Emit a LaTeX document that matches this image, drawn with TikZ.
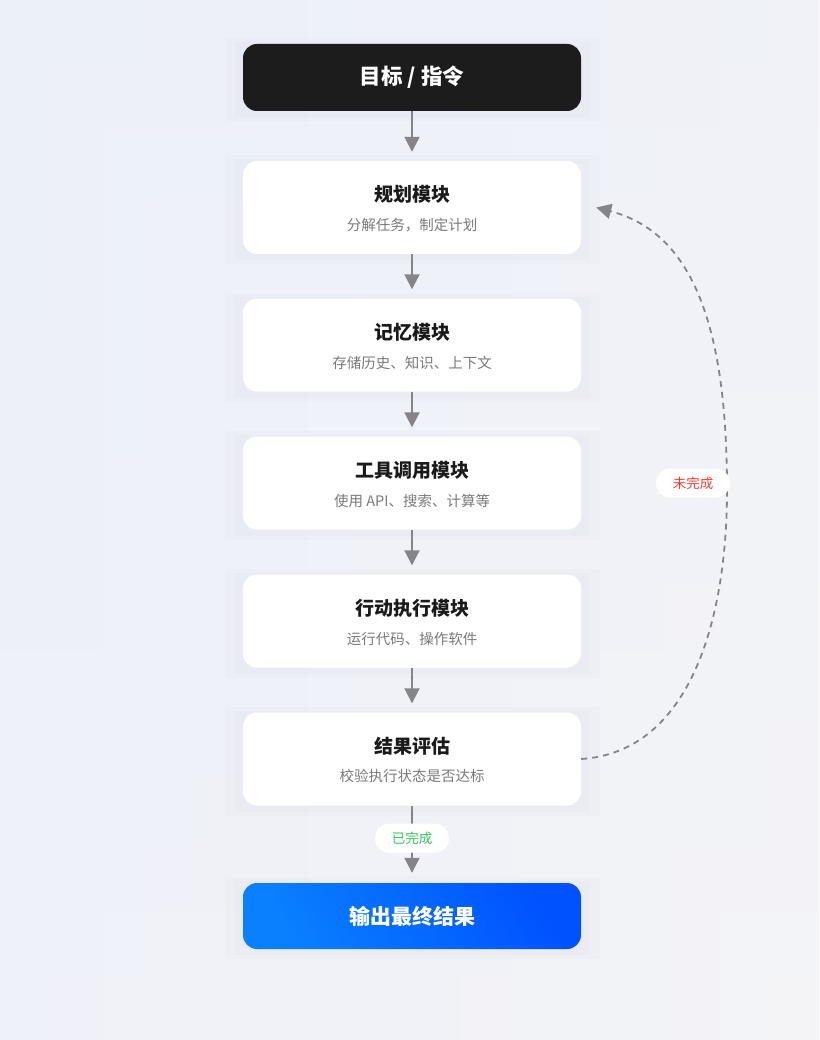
\documentclass[tikz,border=0pt]{standalone}
\usepackage{fontspec}
\setmainfont{Noto Sans CJK SC}
\usetikzlibrary{arrows.meta,shapes.misc,calc}
\definecolor{bgA}{HTML}{ECF0F9}
\definecolor{bgB}{HTML}{F4F4F7}
\definecolor{dark}{HTML}{1C1C1C}
\definecolor{conn}{HTML}{858589}
\definecolor{sub}{HTML}{7A7A7A}
\definecolor{titlec}{HTML}{1A1A1A}
\definecolor{blueA}{HTML}{0A80FF}
\definecolor{blueB}{HTML}{0052FF}
\definecolor{redc}{HTML}{FF3B30}
\definecolor{greenc}{HTML}{34C759}
\definecolor{shadowc}{HTML}{D8DAE6}
\tikzset{
  card/.style={rounded corners=14pt, minimum width=338pt, inner sep=0pt},
  whitecard/.style={card, fill=white, minimum height=93pt},
  cardshadow/.style={fill=shadowc, fill opacity=0.12, draw=none},
  ttl/.style={font=\bfseries\fontsize{19}{21}\selectfont, text=titlec},
  subt/.style={font=\fontsize{14.5}{16}\selectfont, text=sub},
  flow/.style={draw=conn, line width=2pt, -{Triangle[length=15pt,width=15pt]}},
  loopc/.style={draw=conn, line width=1.8pt, dash pattern=on 6pt off 5pt, -{Triangle[length=15pt,width=15pt]}},
  pill/.style={rounded rectangle, fill=white, minimum width=74pt, minimum height=29pt, inner sep=0pt, font=\fontsize{13.5}{15}\selectfont},
}
\begin{document}
\begin{tikzpicture}[x=1pt,y=-1pt]
\useasboundingbox (0,0) rectangle (819,1040);
\shade[top color=bgA, bottom color=bgB] (0,0) rectangle (819,1040);
\shade[left color=bgA, right color=bgB, opacity=0.5] (0,0) rectangle (819,1040);
% shadows
\foreach \yc/\h in {77.5/67, 207.5/93, 345/93, 483/93, 621/93, 759/93, 916/66}{
  \fill[cardshadow] (225,\yc-\h/2-6) rectangle (600,\yc+\h/2+10);
  \fill[cardshadow] (235,\yc-\h/2-2) rectangle (590,\yc+\h/2+6);
}
% nodes
\node[card, fill=dark, minimum height=67pt, text=white, font=\bfseries\fontsize{21.5}{24}\selectfont] (goal) at (412,77.5) {目标 / 指令};
\node[whitecard] (plan) at (412,207.5) {};
\node[ttl] (planT) at (412,194) {规划模块};
\node[subt] (planS) at (412,225) {分解任务，制定计划};
\node[whitecard] (mem) at (412,345) {};
\node[ttl] (memT) at (412,332) {记忆模块};
\node[subt] (memS) at (412,363) {存储历史、知识、上下文};
\node[whitecard] (tool) at (412,483) {};
\node[ttl] (toolT) at (412,470) {工具调用模块};
\node[subt] (toolS) at (412,501) {使用 API、搜索、计算等};
\node[whitecard] (act) at (412,621) {};
\node[ttl] (actT) at (412,608) {行动执行模块};
\node[subt] (actS) at (412,639) {运行代码、操作软件};
\node[whitecard] (eval) at (412,759) {};
\node[ttl] (evalT) at (412,746) {结果评估};
\node[subt] (evalS) at (412,776) {校验执行状态是否达标};
\node[card, minimum height=66pt, left color=blueA, right color=blueB, shading angle=120, text=white, font=\bfseries\fontsize{21}{23}\selectfont] (out) at (412,916) {输出最终结果};
% connectors
\draw[flow] (goal.south) -- ($(plan.north)+(0,-9)$);
\draw[flow] (plan.south) -- ($(mem.north)+(0,-9)$);
\draw[flow] (mem.south) -- ($(tool.north)+(0,-9)$);
\draw[flow] (tool.south) -- ($(act.north)+(0,-9)$);
\draw[flow] (act.south) -- ($(eval.north)+(0,-9)$);
\draw[flow] (eval.south) -- ($(out.north)+(0,-10)$);
\coordinate (loopmid) at (727,490);
\draw[loopc] (eval.east) .. controls (690,752) and (727,620) .. (loopmid) .. controls (727,320) and (690,232) .. ($(plan.east)+(15,0)$);
% labels
\node[pill, text=redc] (undone) at (693,483) {未完成};
\node[pill, text=greenc] (done) at (412,838) {已完成};
\end{tikzpicture}
\end{document}
